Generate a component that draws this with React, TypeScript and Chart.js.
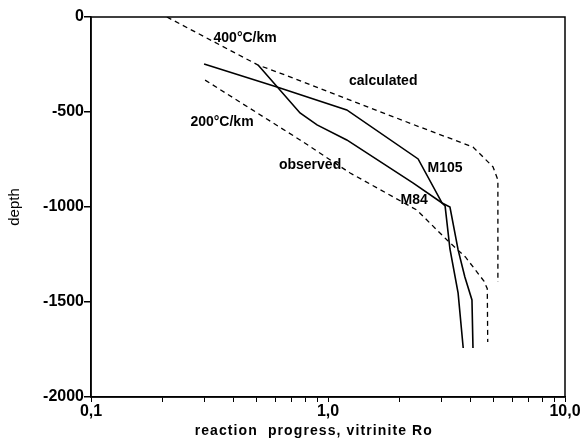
import React, { useEffect, useRef } from "react";
import { Chart, registerables } from "chart.js";

Chart.register(...registerables);

// Calculated 400°C/km (dashed)
const calc400X = [0.209, 0.507, 0.627, 2.44, 4.09, 4.97, 5.21, 5.21];
const calc400Y = [0, -253, -295, -579, -684, -789, -858, -1395];
// Calculated 200°C/km (dashed)
const calc200X = [0.303, 0.762, 1.24, 2.37, 3.18, 3.8, 4.55, 4.7, 4.72];
const calc200Y = [-332, -647, -821, -1016, -1174, -1263, -1390, -1430, -1711];
// Observed M105 (solid)
const m105X = [0.3, 0.609, 1.2, 2.4, 3.03, 3.12, 3.27, 3.54, 3.72];
const m105Y = [-247, -368, -489, -747, -979, -995, -1221, -1453, -1742];
// Observed M84 (solid)
const m84X = [0.507, 0.762, 0.899, 1.2, 2.29, 3.03, 3.27, 3.54, 3.78, 4.05, 4.09];
const m84Y = [-253, -505, -568, -647, -874, -979, -1000, -1226, -1368, -1489, -1742];

const xTickValues = [0.1, 0.2, 0.3, 0.4, 0.5, 0.6, 0.7, 0.8, 0.9, 1, 2, 3, 4, 5, 6, 7, 8, 9, 10];
const xTickLabels: Record<string, string> = { "0.1": "0,1", "1": "1,0", "10": "10,0" };
const yTickValues = [0, -500, -1000, -1500, -2000];
const xTitle = "reaction  progress, vitrinite Ro";

const annoText = ["400°C/km", "calculated", "200°C/km", "observed", "M105", "M84"];
const annoX = [0.447, 1.71, 0.357, 0.84, 3.12, 2.31];
const annoY = [-111, -337, -553, -779, -795, -963];

const pts = (xs: number[], ys: number[]) => xs.map((x, i) => ({ x, y: ys[i] }));

const FONT = "'Liberation Sans', Arial, sans-serif";

export default function App() {
  const ref = useRef<HTMLCanvasElement | null>(null);
  useEffect(() => {
    if (!ref.current) return;
    const labelsPlugin = {
      id: "annos",
      afterDatasetsDraw(chart: any) {
        const { ctx, scales, chartArea } = chart;
        ctx.save();
        ctx.strokeStyle = "#000";
        ctx.lineWidth = 1.5;
        ctx.strokeRect(chartArea.left, chartArea.top, chartArea.right - chartArea.left, chartArea.bottom - chartArea.top);
        ctx.fillStyle = "#000";
        ctx.font = `bold 14px ${FONT}`;
        ctx.textAlign = "center";
        ctx.textBaseline = "middle";
        annoText.forEach((t, i) => {
          ctx.fillText(t, scales.x.getPixelForValue(annoX[i]), scales.y.getPixelForValue(annoY[i]));
        });
        // x-axis title, letter-spaced
        ctx.font = `bold 14px ${FONT}`;
        (ctx as any).letterSpacing = "1.1px";
        ctx.textAlign = "center";
        ctx.textBaseline = "middle";
        ctx.fillText(xTitle, chartArea.left + (chartArea.right - chartArea.left) * 0.47, chartArea.bottom + 34);
        ctx.restore();
      },
    };
    const base = { pointRadius: 0, borderColor: "#000", fill: false, tension: 0 };
    const chart = new Chart(ref.current, {
      type: "line",
      data: {
        datasets: [
          { ...base, label: "400°C/km", data: pts(calc400X, calc400Y), borderWidth: 1.3, borderDash: [5, 4] },
          { ...base, label: "200°C/km", data: pts(calc200X, calc200Y), borderWidth: 1.3, borderDash: [5, 4] },
          { ...base, label: "M105", data: pts(m105X, m105Y), borderWidth: 1.6 },
          { ...base, label: "M84", data: pts(m84X, m84Y), borderWidth: 1.6 },
        ] as any,
      },
      options: {
        animation: false,
        responsive: false,
        maintainAspectRatio: false,
        layout: { padding: { top: 17, right: 19, left: 0, bottom: 0 } },
        plugins: { legend: { display: false }, tooltip: { enabled: false } },
        scales: {
          x: {
            type: "logarithmic",
            min: 0.1,
            max: 10,
            afterBuildTicks: (scale: any) => {
              scale.ticks = xTickValues.map((v) => ({ value: v }));
            },
            afterFit: (scale: any) => {
              scale.height = 42;
            },
            ticks: {
              autoSkip: false,
              maxRotation: 0,
              color: "#000",
              font: { family: FONT, size: 16, weight: "bold" },
              padding: 0,
              callback: (v: any) => xTickLabels[String(v)] ?? "",
            },
            grid: { drawOnChartArea: false, drawTicks: true, tickLength: 5, color: "#000", lineWidth: 1 },
            border: { display: true, color: "#000", width: 1.5 },
            title: { display: false },
          },
          y: {
            type: "linear",
            min: -2000,
            max: 0,
            afterBuildTicks: (scale: any) => {
              scale.ticks = yTickValues.map((v) => ({ value: v }));
            },
            afterFit: (scale: any) => {
              scale.width = 91;
            },
            ticks: {
              color: "#000",
              font: { family: FONT, size: 16, weight: "bold" },
              padding: 0,
              callback: (v: any) => String(v),
            },
            grid: { drawOnChartArea: false, drawTicks: true, tickLength: 7, color: "#000", lineWidth: 1.5 },
            border: { display: true, color: "#000", width: 1.5 },
            title: {
              display: true,
              text: "depth",
              color: "#000",
              font: { family: FONT, size: 15 },
              padding: { top: 6, bottom: 0 },
            },
          },
        },
      } as any,
      plugins: [labelsPlugin],
    });
    return () => chart.destroy();
  }, []);
  return (
    <div style={{ position: "absolute", left: 0, top: 0, width: 584, height: 439, background: "#fff" }}>
      <canvas ref={ref} width={584} height={439} style={{ width: 584, height: 439, display: "block" }} />
    </div>
  );
}
